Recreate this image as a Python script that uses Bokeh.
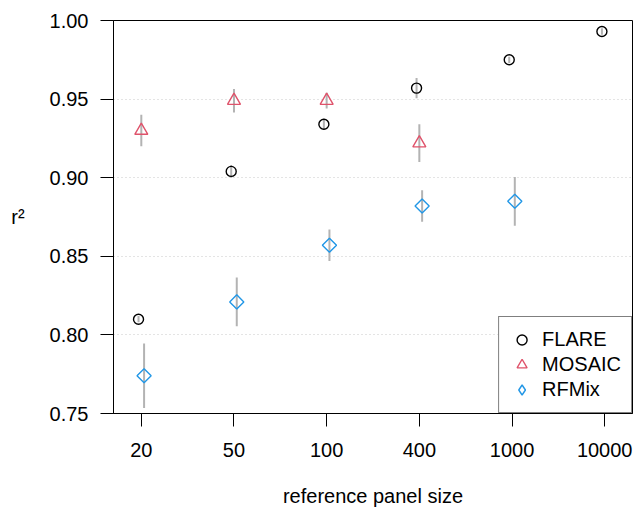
import numpy as np
from bokeh.plotting import figure
from bokeh.models import (Range1d, FixedTicker, NumeralTickFormatter, Legend, LegendItem,
                          ColumnDataSource)
from bokeh.embed import file_html
from bokeh.resources import INLINE

# ---- data ----
panel_sizes = ["20", "50", "100", "400", "1000", "10000"]
flare = [0.810, 0.904, 0.934, 0.957, 0.975, 0.993]
flare_err = [0.002, 0.004, 0.0035, 0.0065, 0.002, 0.002]
mosaic = [0.930, 0.949, 0.949, 0.922]
mosaic_err = [0.010, 0.0075, 0.005, 0.012]
rfmix = [0.774, 0.821, 0.857, 0.882, 0.885]
rfmix_err = [0.0205, 0.0155, 0.010, 0.010, 0.0155]
y_ticks = [0.75, 0.80, 0.85, 0.90, 0.95, 1.00]
x_title = "reference panel size"
y_title = "r²"

FONT = "Liberation Sans"
FS = "20px"
ERR_COLOR = "#B3B3B3"

x_lo, x_hi = 0.7, len(panel_sizes) + 0.3
p = figure(width=636, height=512, output_backend="svg", toolbar_location=None,
           x_range=Range1d(x_lo, x_hi), y_range=Range1d(y_ticks[0], y_ticks[-1]))
p.min_border_left = 113
p.min_border_right = 4
p.min_border_top = 20
p.min_border_bottom = 99

p.outline_line_color = "black"
p.outline_line_width = 1
p.background_fill_color = "white"
p.border_fill_color = "white"

p.xgrid.visible = False
p.ygrid.ticker = FixedTicker(ticks=y_ticks[1:-1])
p.ygrid.grid_line_color = "#C8C8C8"
p.ygrid.grid_line_dash = "1 3"
p.ygrid.grid_line_width = 1

xpos = np.arange(1, len(panel_sizes) + 1)
p.xaxis.ticker = FixedTicker(ticks=list(xpos))
p.xaxis.major_label_overrides = {int(i): s for i, s in zip(xpos, panel_sizes)}
p.yaxis.ticker = FixedTicker(ticks=y_ticks)
p.yaxis.formatter = NumeralTickFormatter(format="0.00")

for ax in (p.xaxis, p.yaxis):
    ax.axis_line_color = "black"
    ax.major_tick_line_color = "black"
    ax.major_tick_out = 13
    ax.major_tick_in = 0
    ax.minor_tick_out = 0
    ax.minor_tick_in = 0
    ax.major_label_text_font = FONT
    ax.major_label_text_font_size = FS
    ax.major_label_text_color = "black"
    ax.axis_label_text_font = FONT
    ax.axis_label_text_font_size = FS
    ax.axis_label_text_font_style = "normal"
    ax.axis_label_text_color = "black"

p.xaxis.axis_label = x_title
p.xaxis.major_label_standoff = 16
p.xaxis.axis_label_standoff = 25
p.yaxis.axis_label = y_title
p.yaxis.axis_label_orientation = "horizontal"
p.yaxis.major_label_standoff = 12
p.yaxis.axis_label_standoff = 22

series = [
    ("FLARE", flare, flare_err, -0.03, "circle", "circle", "black", 10, 0),
    ("MOSAIC", mosaic, mosaic_err, 0.0, "triangle", "triangle", "#DF536B", 13, 0),
    ("RFMix", rfmix, rfmix_err, 0.03, "square", "diamond", "#2297E6", 10, np.pi / 4),
]

items = []
for name, vals, errs, off, marker, leg_marker, color, size, ang in series:
    n = len(vals)
    x = xpos[:n] + off
    v = np.array(vals)
    e = np.array(errs)
    src = ColumnDataSource(dict(x=x, y=v, lo=v - e, hi=v + e))
    p.segment(x0="x", y0="lo", x1="x", y1="hi", source=src,
              line_color=ERR_COLOR, line_width=2)
    r = p.scatter(x="x", y="y", source=src, marker=marker, size=size, angle=ang,
                  fill_color=None, line_color=color, line_width=1.4)
    if leg_marker != marker:
        # legend-key glyph: zero size in the plot, drawn at legend size in the key
        r = p.scatter(x="x", y="y", source=src, marker=leg_marker, size=0,
                      fill_color=None, line_color=color, line_width=1.4)
    items.append(LegendItem(label=name, renderers=[r]))

legend = Legend(items=items, location="bottom_right")
legend.margin = 0
legend.padding = 10
legend.spacing = 0
legend.label_height = 25
legend.glyph_height = 25
legend.glyph_width = 25
legend.label_standoff = 8
legend.label_text_font = FONT
legend.label_text_font_size = FS
legend.label_text_color = "black"
legend.border_line_color = "black"
legend.border_line_width = 1
legend.background_fill_color = "white"
legend.background_fill_alpha = 1.0
p.add_layout(legend, "center")

open("out.html", "w").write(file_html(p, INLINE))
